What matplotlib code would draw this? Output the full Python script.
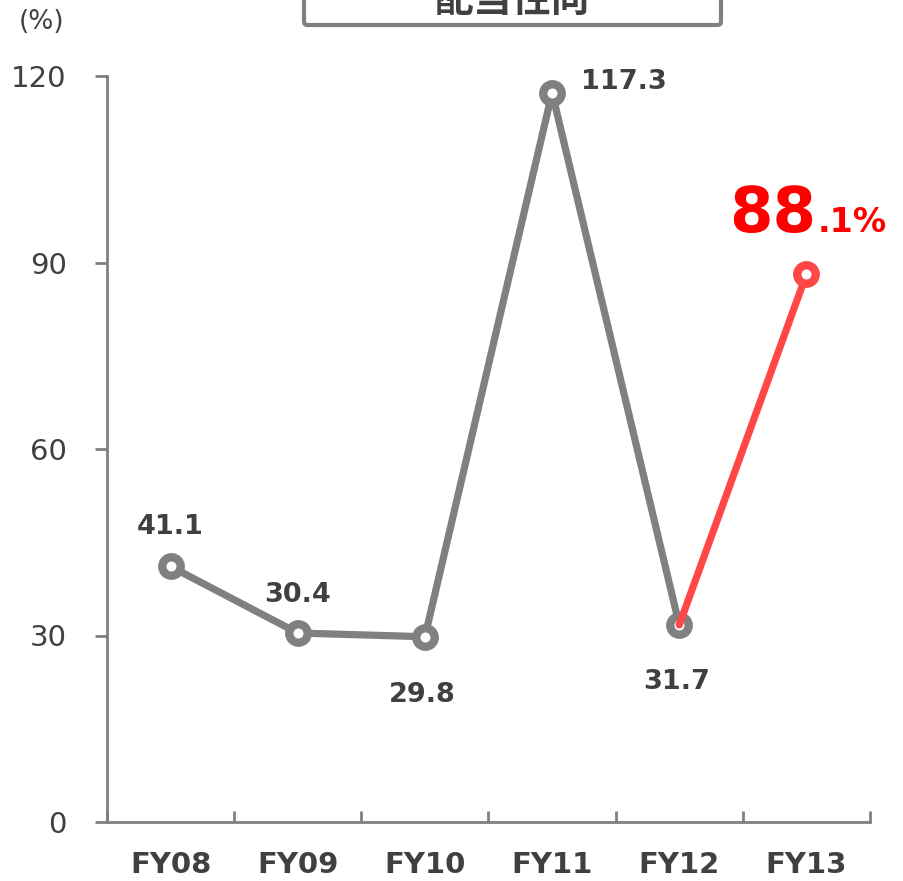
import matplotlib.pyplot as plt
from matplotlib.patches import FancyBboxPatch

# payout ratio by fiscal year (%)
years = ['FY08', 'FY09', 'FY10', 'FY11', 'FY12', 'FY13']
payout = [41.1, 30.4, 29.8, 117.3, 31.7, 88.1]
yticks = [0, 30, 60, 90, 120]
title = '配当性向'

gray = '#808080'
red = '#ff4747'
txt = '#404040'

fig = plt.figure(figsize=(9.04, 8.81), dpi=100)
ax = fig.add_axes([107 / 904, 1 - 822 / 881, 763 / 904, 746 / 881])

x = list(range(len(years)))

# gray history FY08-FY12
ax.plot(x[:5], payout[:5], color=gray, lw=5.2, marker='o', ms=13.3,
        mfc='white', mec=gray, mew=6, solid_capstyle='round', zorder=3)
# red segment to latest year
ax.plot(x[4:], payout[4:], color=red, lw=5.2, solid_capstyle='round', zorder=4)
ax.plot(x[5], payout[5], marker='o', ms=13.3, mfc='white', mec=red, mew=6, zorder=5)

# value labels (offsets in pixels from the point to the text baseline)
offsets = [(0, 32), (0, 31), (-3, -65), (72, 4), (-3, -64)]
for i in range(5):
    dx, dy = offsets[i]
    ax.annotate(f'{payout[i]:.1f}', (x[i], payout[i]),
                xytext=(dx * 0.72, dy * 0.72), textcoords='offset points',
                ha='center', va='baseline', fontsize=19.5, fontweight='bold', color=txt)

whole, frac = f'{payout[5]:.1f}'.split('.')
big = ax.annotate(whole, (x[5], payout[5]), xytext=(-77 * 0.72, 42 * 0.72),
                  textcoords='offset points', ha='left', va='baseline',
                  fontsize=45, fontweight='bold', color='#ff0000')
ax.annotate('.' + frac + '%', (x[5], payout[5]), xytext=(11 * 0.72, 42 * 0.72),
            textcoords='offset points', ha='left', va='baseline',
            fontsize=24, fontweight='bold', color='#ff0000')

ax.set_xlim(-0.5, 5.5)
ax.set_ylim(0, 120)
ax.set_yticks(yticks)
ax.set_yticklabels([str(v) for v in yticks], fontsize=21, color=txt)
ax.tick_params(axis='y', direction='out', length=9, width=2, color=gray, pad=20)

ax.set_xticks([i - 0.5 for i in range(len(years) + 1)])
ax.set_xticklabels([])
ax.tick_params(axis='x', which='major', direction='in', length=8, width=2, color=gray)
ax.set_xticks(x, minor=True)
ax.set_xticklabels(years, minor=True, fontsize=21, fontweight='bold', color=txt)
ax.tick_params(axis='x', which='minor', length=0, pad=21)

for s in ['top', 'right']:
    ax.spines[s].set_visible(False)
for s in ['left', 'bottom']:
    ax.spines[s].set_color(gray)
    ax.spines[s].set_linewidth(2)

fig.text(19 / 904, 1 - 22 / 881, '(%)', fontsize=19, color=txt, va='center', ha='left')

# title box, cut off by the top edge
box = FancyBboxPatch((304 / 904, 1 - 25 / 881), 417 / 904, 80 / 881,
                     boxstyle='round,pad=0,rounding_size=0.004', transform=fig.transFigure,
                     fc='white', ec=gray, lw=3, clip_on=False)
fig.patches.append(box)
fig.text(512 / 904, 1 - 12 / 881, title, fontsize=28, fontweight='bold', color=txt,
         ha='center', va='baseline', family=['Noto Sans CJK JP', 'DejaVu Sans'])

fig.savefig('out.png', dpi=100)
